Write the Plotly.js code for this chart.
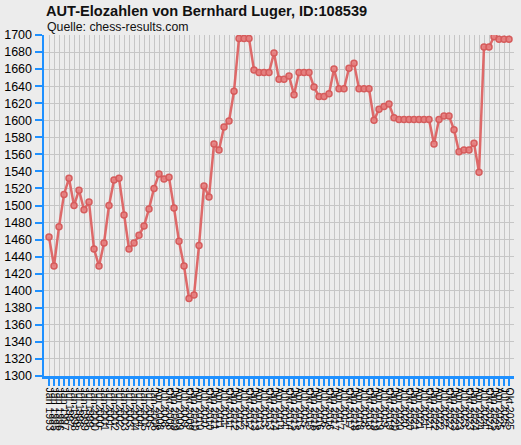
<!DOCTYPE html>
<html>
<head>
<meta charset="utf-8">
<script src="https://cdn.plot.ly/plotly-3.0.1.min.js"></script>
<style>
  html, body { margin: 0; padding: 0; background: #ececec; }
  #elochart { width: 521px; height: 445px; }
</style>
</head>
<body>
<div id="elochart"></div>
<script>
// Elo lists (tick labels), one per data point
const listDates = [
  'Jan 1993', 'Jan 1995', 'Jan 1996', 'Jan 1997', 'Jul 1997', 'Jan 1998', 'Jul 1998',
  'Jan 1999', 'Jul 1999', 'Jan 2000', 'Jul 2000', 'Jan 2001', 'Jul 2001', 'Jan 2002',
  'Jul 2002', 'Jan 2003', 'Jul 2003', 'Jan 2004', 'Jul 2004', 'Jan 2005', 'Jul 2005',
  'Jan 2006', 'Apr 2008', 'Jul 2008', 'Okt 2008',
  'Jan 2009', 'Apr 2009', 'Jul 2009', 'Okt 2009', 'Jan 2010', 'Apr 2010', 'Jul 2010', 'Okt 2010',
  'Jan 2011', 'Apr 2011', 'Jul 2011', 'Okt 2011', 'Jan 2012', 'Apr 2012', 'Jul 2012', 'Okt 2012',
  'Jan 2013', 'Apr 2013', 'Jul 2013', 'Okt 2013', 'Jan 2014', 'Apr 2014', 'Jul 2014', 'Okt 2014',
  'Jan 2015', 'Apr 2015', 'Jul 2015', 'Okt 2015', 'Jan 2016', 'Apr 2016', 'Jul 2016', 'Okt 2016',
  'Jan 2017', 'Apr 2017', 'Jul 2017', 'Okt 2017', 'Jan 2018', 'Apr 2018', 'Jul 2018', 'Okt 2018',
  'Jan 2019', 'Apr 2019', 'Jul 2019', 'Okt 2019', 'Jan 2020', 'Apr 2020', 'Jul 2020', 'Okt 2020',
  'Jan 2021', 'Apr 2021', 'Jul 2021', 'Okt 2021', 'Jan 2022', 'Apr 2022', 'Jul 2022', 'Okt 2022',
  'Jan 2023', 'Apr 2023', 'Jul 2023', 'Okt 2023', 'Jan 2024', 'Apr 2024', 'Jul 2024', 'Okt 2024',
  'Jan 2025', 'Apr 2025', 'Jul 2025', 'Okt 2025'
];

// Elo values
const eloValues = [
  1463, 1429, 1475, 1513, 1532, 1500, 1518, 1495, 1504, 1449,
  1429, 1456, 1500, 1530, 1532, 1489, 1449, 1456, 1465, 1476,
  1496, 1520, 1537, 1531, 1533, 1497, 1458, 1429, 1391, 1395,
  1453, 1523, 1510, 1572, 1565, 1592, 1599, 1634, 1696, 1696,
  1696, 1659, 1656, 1656, 1656, 1679, 1648, 1648, 1652, 1630,
  1656, 1656, 1656, 1639, 1628, 1628, 1631, 1660, 1637, 1637,
  1661, 1667, 1637, 1637, 1637, 1600, 1613, 1616, 1619, 1603,
  1601, 1601, 1601, 1601, 1601, 1601, 1601, 1572, 1601, 1605,
  1605, 1589, 1563, 1565, 1565, 1573, 1539, 1686, 1686, 1698,
  1695, 1695, 1695
];

const yTicks = [1300, 1320, 1340, 1360, 1380, 1400, 1420, 1440, 1460, 1480, 1500,
  1520, 1540, 1560, 1580, 1600, 1620, 1640, 1660, 1680, 1700];

const AXIS_BLUE = '#1e90ff';

const trace = {
  x: listDates,
  y: eloValues,
  type: 'scatter',
  mode: 'lines+markers',
  line: { color: 'rgba(221,98,98,0.95)', width: 2.5 },
  marker: {
    size: 6,
    color: 'rgba(230,128,128,0.9)',
    line: { color: 'rgba(214,92,92,1)', width: 1.5 }
  },
  hoverinfo: 'x+y'
};

const layout = {
  width: 521,
  height: 445,
  paper_bgcolor: '#ececec',
  plot_bgcolor: '#ececec',
  showlegend: false,
  margin: { l: 44, r: 7, t: 35, b: 69 },
  font: { family: 'Liberation Sans, Arial, sans-serif', color: '#000', size: 12 },
  title: {
    text: '<b>AUT-Elozahlen von Bernhard Luger, ID:108539</b>',
    font: { size: 14.6, color: '#111' },
    xref: 'container', yref: 'container',
    x: 46 / 521, xanchor: 'left',
    y: 1 - 10.5 / 445, yanchor: 'middle'
  },
  annotations: [{
    text: 'Quelle: chess-results.com',
    xref: 'paper', yref: 'paper',
    x: 1 / 470, y: 1 + 17 / 341,
    xanchor: 'left', yanchor: 'top',
    showarrow: false,
    font: { size: 12.3, color: '#111' }
  }],
  xaxis: {
    type: 'category',
    tickmode: 'linear', tick0: 0, dtick: 1,
    range: [-1, 93],
    tickangle: 90,
    tickfont: { size: 10.5 },
    ticks: 'outside', ticklen: 7, tickwidth: 1.5, tickcolor: AXIS_BLUE,
    showline: true, linecolor: AXIS_BLUE, linewidth: 2.5,
    showgrid: true, gridcolor: '#c6c6c6', gridwidth: 1,
    zeroline: false, fixedrange: true
  },
  yaxis: {
    range: [1300, 1700],
    tickmode: 'array', tickvals: yTicks,
    tickfont: { size: 12.5 },
    ticks: 'outside', ticklen: 7, tickwidth: 2, tickcolor: AXIS_BLUE,
    showline: true, linecolor: AXIS_BLUE, linewidth: 2.5,
    showgrid: true, gridcolor: '#c6c6c6', gridwidth: 1,
    zeroline: false, fixedrange: true
  }
};

Plotly.newPlot('elochart', [trace], layout, { displayModeBar: false, staticPlot: true });
</script>
</body>
</html>
